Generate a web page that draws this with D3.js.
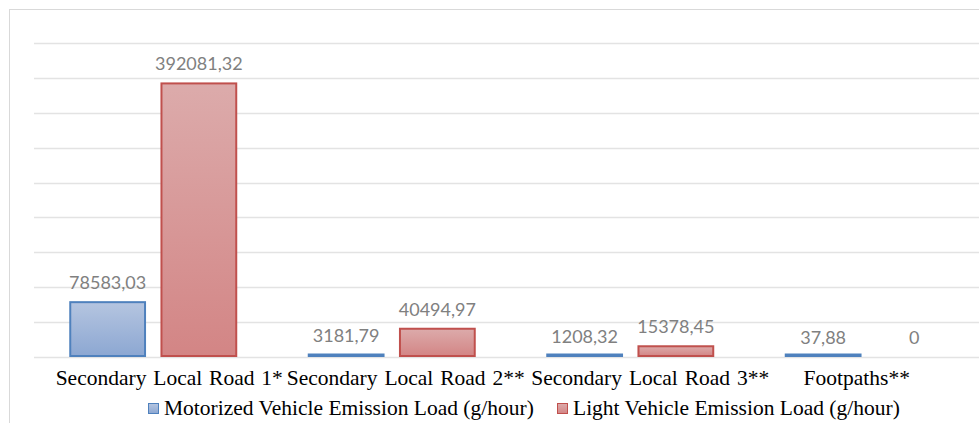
<!DOCTYPE html>
<html>
<head>
<meta charset="utf-8">
<script src="https://cdn.jsdelivr.net/npm/d3@7"></script>
<style>
  html, body { margin: 0; padding: 0; background: #fff; }
  svg { display: block; }
</style>
</head>
<body>
<div id="chart"></div>
<script>
// data
var categories = ["Secondary Local Road 1*", "Secondary Local Road 2**", "Secondary Local Road 3**", "Footpaths**"];
var seriesNames = ["Motorized Vehicle Emission Load (g/hour)", "Light Vehicle Emission Load (g/hour)"];
var motorized = [78583.03, 3181.79, 1208.32, 37.88];
var light = [392081.32, 40494.97, 15378.45, 0];
var yTicks = [0, 50000, 100000, 150000, 200000, 250000, 300000, 350000, 400000, 450000];

// the category labels in the source are not quite centred, nudge them
var labelShift = [16, 14, 20, -12];

var width = 979, height = 423;
var plot = {left: 34, right: 988, top: 43, bottom: 357};

var svg = d3.select("#chart").append("svg")
    .attr("width", width)
    .attr("height", height);

var defs = svg.append("defs");
function grad(id, top, bottom) {
  var g = defs.append("linearGradient")
      .attr("id", id)
      .attr("x1", 0).attr("y1", 0).attr("x2", 0).attr("y2", 1);
  g.append("stop").attr("offset", "0%").attr("stop-color", top);
  g.append("stop").attr("offset", "100%").attr("stop-color", bottom);
}
grad("gBlue", "#b5c5e0", "#8ca7d2");
grad("gRed", "#dcabab", "#d38585");

var series = [
  {name: seriesNames[0], values: motorized, fill: "url(#gBlue)", stroke: "#4f81bd"},
  {name: seriesNames[1], values: light, fill: "url(#gRed)", stroke: "#c0504d"}
];

// outer chart frame
svg.append("rect")
    .attr("x", 9.5).attr("y", 9.5)
    .attr("width", 1000).attr("height", 500)
    .attr("fill", "none")
    .attr("stroke", "#d9d9d9");

var x0 = d3.scaleBand()
    .domain(categories)
    .range([plot.left, plot.right])
    .paddingInner(0.304)
    .paddingOuter(0.152);

var x1 = d3.scaleBand()
    .domain([0, 1])
    .range([0, x0.bandwidth()])
    .paddingInner(0.18);

var y = d3.scaleLinear()
    .domain([0, 450000])
    .range([plot.bottom, plot.top]);

// gridlines
svg.append("g")
    .attr("class", "grid")
    .selectAll("line")
    .data(yTicks)
    .join("line")
    .attr("x1", plot.left)
    .attr("x2", width)
    .attr("y1", function(d) { return Math.round(y(d)) + 0.5; })
    .attr("y2", function(d) { return Math.round(y(d)) + 0.5; })
    .attr("stroke", "#e3e3e3")
    .attr("stroke-width", 1.5);

// bars
var groups = svg.selectAll("g.cat")
    .data(categories)
    .join("g")
    .attr("class", "cat")
    .attr("transform", function(d) { return "translate(" + x0(d) + ",0)"; });

groups.selectAll("rect")
    .data(function(d, i) {
      return series.map(function(s, j) { return {s: s, j: j, v: s.values[i]}; });
    })
    .join("rect")
    .filter(function(d) { return d.v > 0; })
    .attr("x", function(d) { return x1(d.j); })
    .attr("width", x1.bandwidth())
    .attr("y", function(d) { return Math.min(y(d.v), plot.bottom - 2.5); })
    .attr("height", function(d) { return Math.max(plot.bottom - y(d.v), 2.5) - 1; })
    .attr("fill", function(d) { return d.s.fill; })
    .attr("stroke", function(d) { return d.s.stroke; })
    .attr("stroke-width", 2);

// value labels
groups.selectAll("text.val")
    .data(function(d, i) {
      return series.map(function(s, j) { return {s: s, j: j, v: s.values[i]}; });
    })
    .join("text")
    .attr("class", "val")
    .attr("x", function(d) { return x1(d.j) + x1.bandwidth() / 2; })
    .attr("y", function(d) { return y(d.v) - 13; })
    .attr("text-anchor", "middle")
    .attr("font-family", "Lato, 'Open Sans', sans-serif")
    .attr("font-size", 18)
    .attr("fill", "#808080")
    .text(function(d) { return d3.format(d.v === 0 ? "d" : ".2f")(d.v).replace(".", ","); });

// category labels
svg.append("g")
    .selectAll("text")
    .data(categories)
    .join("text")
    .attr("x", function(d, i) { return x0(d) + x0.bandwidth() / 2 + labelShift[i]; })
    .attr("y", 385)
    .attr("text-anchor", "middle")
    .attr("font-family", "'Liberation Serif', 'Times New Roman', serif")
    .attr("font-size", 21.5)
    .attr("word-spacing", 1.5)
    .attr("fill", "#000")
    .text(function(d) { return d; });

// legend
var legend = svg.append("g").attr("class", "legend");
var legendX = [148, 557];
var items = legend.selectAll("g")
    .data(series)
    .join("g")
    .attr("transform", function(d, i) { return "translate(" + legendX[i] + ",403)"; });

items.append("rect")
    .attr("x", 0.5).attr("y", 0.5)
    .attr("width", 10).attr("height", 10)
    .attr("fill", function(d) { return d.fill; })
    .attr("stroke", function(d) { return d.stroke; })
    .attr("stroke-width", 1);

items.append("text")
    .attr("x", 16)
    .attr("y", 12)
    .attr("font-family", "'Liberation Serif', 'Times New Roman', serif")
    .attr("font-size", 21.5)
    .attr("fill", "#000")
    .text(function(d) { return d.name; });
</script>
</body>
</html>
